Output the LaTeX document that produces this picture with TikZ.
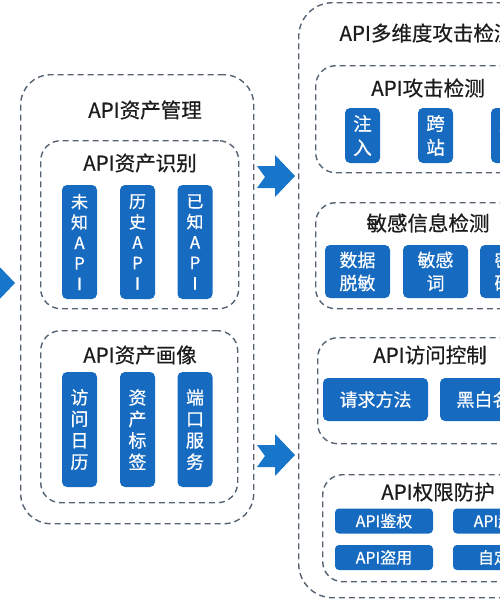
\documentclass[tikz,border=0pt]{standalone}
\usepackage{fontspec}
\setmainfont{Noto Sans CJK SC}[FakeBold=0.6]
\usetikzlibrary{positioning}

\definecolor{boxblue}{RGB}{22,106,192}
\definecolor{arrowblue}{RGB}{24,118,202}
\definecolor{dashgray}{RGB}{84,98,114}
\definecolor{headgray}{RGB}{28,28,30}

\tikzset{
  group/.style={draw=dashgray, line width=1.4pt, dash pattern=on 6pt off 4pt,
    rounded corners=20pt, inner sep=0pt, anchor=north west},
  outergroup/.style={group, rounded corners=30pt},
  heading/.style={text=headgray, inner sep=0pt, font=\fontsize{20.5}{22}\selectfont},
  item/.style={fill=boxblue, rounded corners=5pt, text=white, inner sep=0pt, align=center},
  chevron/.pic={
    \fill[arrowblue] (-38,-10) -- (-20,-10) -- (-20,-21) -- (0,0) -- (-20,21)
      -- (-20,12) -- (-38,12) -- (-30,1) -- cycle;
  },
}

\begin{document}
\begin{tikzpicture}[x=1pt, y=-1pt]
    \useasboundingbox (0,0) rectangle (500,600);
    \clip (0,0) rectangle (500,600);

    % asset management
    \node[outergroup, minimum width=233, minimum height=449] (mgmt) at (20,74) {};
    \node[heading] (mgmthead) at (145,110) {API资产管理};

    \node[group, minimum width=198, minimum height=168] (ident) at (40,140) {};
    \node[heading] (identhead) at (140,163) {API资产识别};
    \begin{scope}[every node/.append style={item, minimum width=35, minimum height=114,
        font=\fontsize{17}{20.5}\selectfont}]
      \node (unknown) at (79.5,242) {未\\知\\A\\P\\I};
      \node (history) at (137.5,242) {历\\史\\A\\P\\I};
      \node (known) at (195,242) {已\\知\\A\\P\\I};
    \end{scope}

    \node[group, minimum width=197, minimum height=172] (portrait) at (40,330) {};
    \node[heading] (portraithead) at (140,355) {API资产画像};
    \begin{scope}[every node/.append style={item, minimum width=35, minimum height=115,
        font=\fontsize{18}{21.5}\selectfont}]
      \node (visitlog) at (79.5,429.5) {访\\问\\日\\历};
      \node (assettag) at (137.5,429.5) {资\\产\\标\\签};
      \node (portsvc) at (195,429.5) {端\\口\\服\\务};
    \end{scope}

    % attack detection
    \node[outergroup, rounded corners=34pt, minimum width=258, minimum height=595] (detect) at (298,2) {};
    \node[heading] (detecthead) at (427,33) {API多维度攻击检测};

    \node[group, minimum width=230, minimum height=107] (attack) at (315,65) {};
    \node[heading] (attackhead) at (428,88) {API攻击检测};
    \begin{scope}[every node/.append style={item, minimum width=35, minimum height=55,
        font=\fontsize{18.5}{24}\selectfont}]
      \node (inject) at (362.5,135.5) {注\\入};
      \node (xss) at (435.5,135.5) {跨\\站};
      \node (crawl) at (508.5,135.5) {爬\\虫};
    \end{scope}

    \node[group, minimum width=230, minimum height=106] (sensitive) at (315,202) {};
    \node[heading] (sensitivehead) at (428,223) {敏感信息检测};
    \begin{scope}[every node/.append style={item, minimum width=65, minimum height=53,
        font=\fontsize{18}{23}\selectfont}]
      \node (masking) at (357.5,271.5) {数据\\脱敏};
      \node (words) at (435.5,271.5) {敏感\\词};
      \node (secret) at (512.5,271.5) {密码\\破解};
    \end{scope}

    \node[group, minimum width=228, minimum height=106] (access) at (317,337) {};
    \node[heading] (accesshead) at (430,355) {API访问控制};
    \begin{scope}[every node/.append style={item, minimum width=105, minimum height=43,
        font=\fontsize{18}{20}\selectfont}]
      \node (method) at (375.5,399.5) {请求方法};
      \node (blackwhite) at (492.5,399.5) {黑白名单};
    \end{scope}

    \node[group, minimum width=232, minimum height=107] (perm) at (322,474) {};
    \node[heading] (permhead) at (438,492) {API权限防护};
    \begin{scope}[every node/.append style={item, rounded corners=4pt, minimum width=98,
        minimum height=25, font=\fontsize{16}{18}\selectfont}]
      \node (authz) at (384,521) {API鉴权};
      \node (overreach) at (502,521) {API越权};
      \node (misuse) at (384,557.5) {API盗用};
      \node (custom) at (502,557.5) {自定义};
    \end{scope}

    % big arrows
    \path (15,283) pic {chevron};
    \path (295,176) pic {chevron};
    \path (295,455) pic {chevron};
\end{tikzpicture}
\end{document}
